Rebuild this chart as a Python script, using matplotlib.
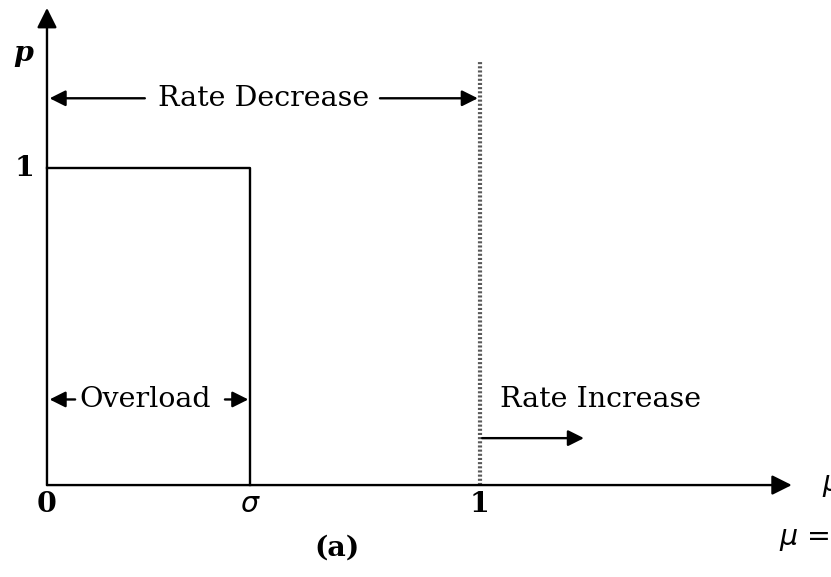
import matplotlib
matplotlib.use("Agg")
import matplotlib.pyplot as plt

# ====================================
# data (in mu / p units)
# ====================================
sigma = 0.47          # overload threshold
p_level = 1.0         # rate decrease probability
mu_one = 1.0          # dotted boundary
y_top = 1.505         # y-axis arrow tip
x_end = 1.72          # x-axis arrow tip
dotted_top = 1.34
y_decrease = 1.22     # "Rate Decrease" arrow height
y_overload = 0.27     # "Overload" arrow height
y_increase = 0.148    # "Rate Increase" arrow height
x_increase_end = 1.24

tick_labels_x = ['0', r'$\sigma$', '1']
tick_pos_x = [0.0, sigma, mu_one]

# ====================================
# figure
# ====================================
fig = plt.figure(figsize=(8.31, 5.77), dpi=100)
ax = fig.add_axes([0, 0, 1, 1])
ax.set_xlim(-0.1085, 1.8106)
ax.set_ylim(-0.290, 1.530)
ax.axis('off')

serif = ['DejaVu Serif']
fsz = 20.5
lw = 1.7

def arrow(x0, y0, x1, y1, ms=24):
    ax.annotate('', xy=(x1, y1), xytext=(x0, y0),
                arrowprops=dict(arrowstyle='-|>', color='k', lw=lw,
                                mutation_scale=ms, shrinkA=0, shrinkB=0))

# axes
arrow(0, 0, 0, y_top, ms=30)
arrow(0, 0, x_end, 0, ms=30)

# step function p
ax.plot([0, sigma, sigma], [p_level, p_level, 0], color='k', lw=lw)

# dotted boundary at mu = 1
ax.plot([mu_one, mu_one], [0, dotted_top], color='0.35', lw=3, ls=(0, (0.5, 0.5)))

# Rate Decrease
ax.text(0.5 * mu_one, y_decrease, 'Rate Decrease', ha='center', va='center',
        fontsize=fsz, family=serif)
arrow(0.226, y_decrease, 0.006, y_decrease)
arrow(0.769, y_decrease, 0.995, y_decrease)

# Overload
ax.text(0.227, y_overload, 'Overload', ha='center', va='center',
        fontsize=fsz, family=serif)
arrow(0.065, y_overload, 0.006, y_overload)
arrow(0.411, y_overload, 0.465, y_overload)

# Rate Increase
ax.text(1.046, 0.27, 'Rate Increase', ha='left', va='center',
        fontsize=fsz, family=serif)
arrow(mu_one + 0.005, y_increase, x_increase_end, y_increase)

# tick labels
for xp, lab in zip(tick_pos_x, tick_labels_x):
    ax.text(xp, -0.062, lab, ha='center', va='center', fontsize=fsz,
            family=serif, fontweight='bold')
ax.text(-0.053, p_level, '1', ha='center', va='center', fontsize=fsz,
        family=serif, fontweight='bold')
ax.text(-0.055, 1.36, 'p', ha='center', va='center',
        fontsize=fsz, family=serif, fontweight='bold', style='italic')
ax.text(0.67, -0.20, '(a)', ha='center', va='center', fontsize=fsz,
        family=serif, fontweight='bold')

# mu labels (cut off at the right edge, as in the reference)
ax.text(1.79, 0.0, r'$\mu$', ha='left', va='center', fontsize=fsz)
ax.text(1.69, -0.17, r'$\mu$ =', ha='left', va='center', fontsize=fsz)

fig.savefig('out.png', dpi=100)
